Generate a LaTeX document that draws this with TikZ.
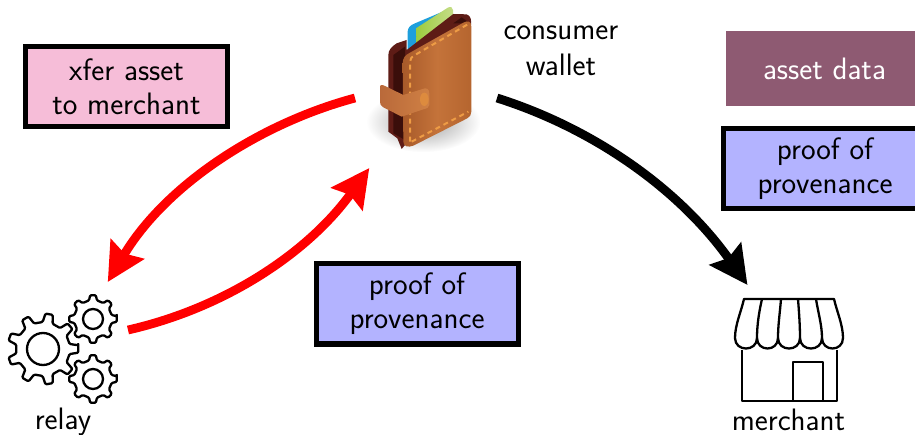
\documentclass[tikz,border=0pt]{standalone}
\usetikzlibrary{arrows.meta,calc}
\renewcommand{\familydefault}{\sfdefault}
\definecolor{pinkfill}{HTML}{F6BDD8}
\definecolor{bluefill}{HTML}{B3B3FF}
\definecolor{mauvefill}{HTML}{8E5A72}
\definecolor{arrowred}{HTML}{FF0000}
\definecolor{leatherA}{HTML}{B5652F}
\definecolor{leatherB}{HTML}{C4733A}
\definecolor{leatherC}{HTML}{A85A2A}
\definecolor{strapA}{HTML}{B9693A}
\definecolor{strapB}{HTML}{CF8044}
\definecolor{darkback}{HTML}{5E1C16}
\definecolor{darkin}{HTML}{3A0E0A}
\definecolor{stitch}{HTML}{EE9C45}
\definecolor{cardblue}{HTML}{1E9FDC}
\definecolor{cardgreenA}{HTML}{9CCB3C}
\definecolor{cardgreenB}{HTML}{C6DE8A}
\tikzset{
  labelbox/.style={draw=black,line width=5pt,minimum width=202pt,minimum height=80pt,align=center,inner sep=0pt,font=\fontsize{31}{34}\selectfont},
  plain/.style={inner sep=0pt,font=\fontsize{31}{36}\selectfont},
  anchorbox/.style={inner sep=0pt,outer sep=0pt},
  flow/.style={line width=8.8pt,-{Stealth[length=38pt,width=38pt,inset=5pt]}},
  icon/.style={line width=2.3pt,line join=round,draw=black},
}
\newcommand{\cog}[6]{% cx cy router rinner rhole teeth
  \begin{scope}[shift={(#1,#2)}]
    \pgfmathsetmacro{\st}{360/#6}
    \filldraw[icon,fill=white,rounded corners=1.2pt] (-0.15*\st:#3)
      \foreach \k in {1,...,#6}{
        -- ({(\k-1)*\st-0.15*\st}:#3)
        -- ({(\k-1)*\st+0.15*\st}:#3)
        -- ({(\k-1)*\st+0.27*\st}:#4)
        -- ({(\k-1)*\st+0.73*\st}:#4)
      } -- cycle;
    \draw[icon] (0,0) circle (#5);
  \end{scope}}
\begin{document}
\begin{tikzpicture}[x=1pt,y=-1pt]
\useasboundingbox (0,0) rectangle (915,435);
% invisible icon nodes that the connectors attach to
\node[anchorbox,minimum width=142pt,minimum height=140pt] (wallet) at (426,98) {};
\node[anchorbox,minimum width=130pt,minimum height=96pt] (relay) at (63,330) {};
\node[anchorbox,minimum width=130pt,minimum height=160pt] (merchant) at (790,365) {};
% wallet
\begin{scope}[shift={(360,0)},x=0.3333pt,y=-0.3333pt]
  \shade[inner color=black!38,outer color=white] (190,365) ellipse (172 and 92);
  % cards
  \fill[cardblue] (143,95) .. controls (143,85) and (150,75) .. (165,70) -- (255,32) -- (262,60) -- (262,120) -- (143,170) -- cycle;
  \shade[left color=cardgreenA,right color=cardgreenB] (168,85) -- (265,22) .. controls (272,17) and (277,22) .. (279,30) -- (281,70) -- (170,150) -- cycle;
  % back cover
  \fill[darkback] (85,165) .. controls (85,150) and (95,140) .. (110,130) -- (140,120) -- (140,150) -- (280,42) -- (320,43) .. controls (332,47) and (335,60) .. (333,75) -- (333,320) -- (135,435) -- (125,447) -- (112,415) -- (85,395) -- cycle;
  \fill[darkin] (100,165) -- (135,140) -- (135,420) -- (100,400) -- cycle;
  \fill[darkin] (280,70) -- (305,52) -- (330,70) -- cycle;
  % front panel
  \shade[left color=leatherC,right color=leatherA,middle color=leatherB] (128,190) .. controls (128,175) and (135,165) .. (150,158) -- (310,68) .. controls (325,60) and (334,65) .. (334,80) -- (334,335) .. controls (334,345) and (330,350) .. (322,355) -- (160,437) .. controls (145,443) and (130,440) .. (130,425) -- cycle;
  \draw[stitch,line width=2pt,dash pattern=on 5pt off 4pt] (150,425) -- (150,185) .. controls (150,175) and (155,172) .. (165,165) -- (325,72);
  \draw[stitch,line width=2pt,dash pattern=on 5pt off 4pt] (155,425) -- (325,335);
  % strap
  \shade[left color=strapA,right color=strapB] (60,265) .. controls (58,255) and (65,252) .. (75,258) -- (130,285) -- (195,265) .. controls (205,265) and (208,272) .. (208,282) -- (208,315) .. controls (208,322) and (200,326) .. (190,328) -- (125,350) -- (70,322) .. controls (62,318) and (60,312) .. (60,305) -- cycle;
  \fill[stitch!70!leatherA] (193,298) ellipse (13 and 20);
\end{scope}
% gears
\cog{93}{319}{24}{19}{10}{8}
\cog{93}{379}{24}{19}{10}{8}
\cog{43}{349}{35.5}{27}{16}{9}
% merchant
\draw[icon] (742,350) -- (742,401) -- (837,401) -- (837,350);
\draw[icon] (793,401) -- (793,362) -- (823,362) -- (823,401);
\filldraw[icon,fill=white] (744,299) -- (834,299)
  .. controls (837,312) and (843,325) .. (843,338)
  .. controls (843,352) and (822,352) .. (822,338)
  .. controls (822,352) and (800,352) .. (800,338)
  .. controls (800,352) and (778,352) .. (778,338)
  .. controls (778,352) and (757,352) .. (757,338)
  .. controls (757,352) and (735,352) .. (735,338)
  .. controls (735,325) and (741,312) .. (744,299) -- cycle;
\draw[icon] (762,299) .. controls (759,312) and (757,325) .. (757,338);
\draw[icon] (781,299) .. controls (780,312) and (778,325) .. (778,338);
\draw[icon] (798,299) .. controls (799,312) and (800,325) .. (800,338);
\draw[icon] (816,299) .. controls (818,312) and (822,325) .. (822,338);
% labels
\node[labelbox,fill=pinkfill] (xfer) at (126.5,87) {xfer asset\\to merchant};
\node[labelbox,fill=bluefill] (proofA) at (417,304) {proof of\\provenance};
\node[labelbox,fill=bluefill,minimum width=203pt] (proofB) at (825,168.5) {proof of\\provenance};
\node[fill=mauvefill,text=white,minimum width=197pt,minimum height=75pt,inner sep=0pt,font=\fontsize{31}{34}\selectfont] (asset) at (824.5,68.5) {asset data};
\node[plain,align=center] (wl) at (561,51) {consumer\\wallet};
\node[plain,anchor=base] (rl) at (63,429) {relay};
\node[plain,anchor=base] (ml) at (788.5,430) {merchant};
% connectors
\draw[flow,arrowred] (wallet.west) .. controls (258,124) and (165,186) .. (relay.47.5);
\draw[flow,arrowred] (relay.east) .. controls (225,308) and (308,253) .. (wallet.231);
\draw[flow,black] (wallet.east) .. controls (595,129) and (680,190) .. (merchant.118);
\end{tikzpicture}
\end{document}
